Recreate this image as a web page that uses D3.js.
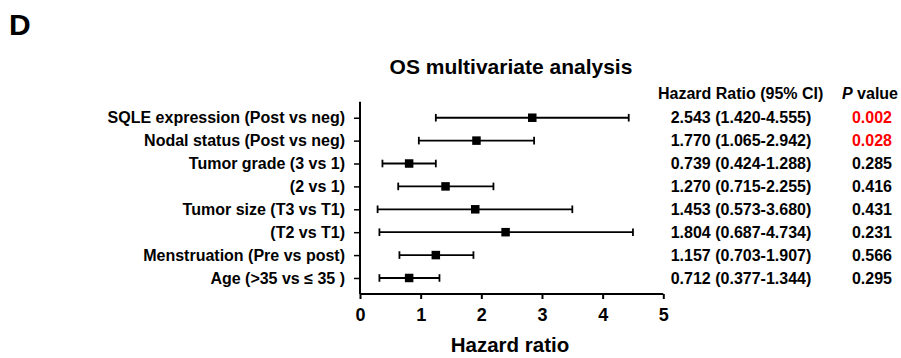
<!DOCTYPE html>
<html>
<head>
<meta charset="utf-8">
<script src="https://cdn.jsdelivr.net/npm/d3@7"></script>
<style>
  html, body { margin: 0; padding: 0; background: #fff; }
  svg { display: block; font-family: "Liberation Sans", Arial, sans-serif; }
</style>
</head>
<body>
<svg id="chart" width="901" height="358"></svg>
<script>
// ---- Data ----
const categories = [
  "SQLE expression (Post vs neg)",
  "Nodal status (Post vs neg)",
  "Tumor grade (3 vs 1)",
  "(2 vs 1)",
  "Tumor size (T3 vs T1)",
  "(T2 vs T1)",
  "Menstruation (Pre vs post)",
  "Age (>35 vs \u2264 35 )"
];
// plotted values
const pointValues = [2.84, 1.92, 0.81, 1.41, 1.90, 2.40, 1.25, 0.81];
const lowerValues = [1.25, 0.97, 0.37, 0.63, 0.29, 0.32, 0.65, 0.32];
const upperValues = [4.43, 2.87, 1.25, 2.20, 3.50, 4.50, 1.87, 1.31];
// table text
const hrLabels = [
  "2.543 (1.420-4.555)",
  "1.770 (1.065-2.942)",
  "0.739 (0.424-1.288)",
  "1.270 (0.715-2.255)",
  "1.453 (0.573-3.680)",
  "1.804 (0.687-4.734)",
  "1.157 (0.703-1.907)",
  "0.712 (0.377-1.344)"
];
const pValues = ["0.002", "0.028", "0.285", "0.416", "0.431", "0.231", "0.566", "0.295"];
const xTicks = [0, 1, 2, 3, 4, 5];
const panelLabel = "D";
const chartTitle = "OS multivariate analysis";
const xTitle = "Hazard ratio";
const hrHeader = "Hazard Ratio (95% CI)";

// ---- Drawing ----
const svg = d3.select("#chart");
const x = d3.scaleLinear().domain([0, 5]).range([360, 663.3]);
const y = d3.scalePoint().domain(categories).range([101.7, 294]).padding(0.7);
const FONT = "Liberation Sans, Arial, sans-serif";

svg.append("text").attr("x", 9).attr("y", 35)
  .attr("font-size", 30).attr("font-weight", "bold").text(panelLabel);

svg.append("text").attr("x", 511).attr("y", 74).attr("text-anchor", "middle")
  .attr("font-size", 21).attr("font-weight", "bold").text(chartTitle);

// y axis
const yAxis = svg.append("g").attr("transform", "translate(360,0)")
  .call(d3.axisLeft(y).tickSize(6).tickPadding(9));
yAxis.select(".domain").attr("d", `M0,101.7V294`).attr("stroke-width", 2);
yAxis.selectAll(".tick line").attr("stroke-width", 1.5);
yAxis.selectAll(".tick text").attr("font-size", 16).attr("font-weight", "bold")
  .attr("font-family", FONT).attr("fill", "#000");

// x axis
const xAxis = svg.append("g").attr("transform", "translate(0,294)")
  .call(d3.axisBottom(x).tickValues(xTicks).tickFormat(d3.format("d")).tickSize(5).tickPadding(9));
xAxis.select(".domain").attr("d", `M360,0H663.3`).attr("stroke-width", 2);
xAxis.selectAll(".tick line").attr("stroke-width", 2);
xAxis.selectAll(".tick text").attr("font-size", 18).attr("font-weight", "bold")
  .attr("font-family", FONT).attr("fill", "#000");

svg.append("text").attr("x", 510).attr("y", 352).attr("text-anchor", "middle")
  .attr("font-size", 20.5).attr("font-weight", "bold").text(xTitle);

// error bars
const rows = categories.map((c, i) => ({c, p: pointValues[i], lo: lowerValues[i], hi: upperValues[i], hr: hrLabels[i], pv: pValues[i]}));
const g = svg.append("g");
const capH = 3.8;
g.selectAll("line.whisk").data(rows).join("line").attr("class", "whisk")
  .attr("x1", d => x(d.lo)).attr("x2", d => x(d.hi))
  .attr("y1", d => y(d.c)).attr("y2", d => y(d.c))
  .attr("stroke", "#000").attr("stroke-width", 1.8);
g.selectAll("line.capl").data(rows).join("line").attr("class", "capl")
  .attr("x1", d => x(d.lo)).attr("x2", d => x(d.lo))
  .attr("y1", d => y(d.c) - capH).attr("y2", d => y(d.c) + capH)
  .attr("stroke", "#000").attr("stroke-width", 1.8);
g.selectAll("line.capr").data(rows).join("line").attr("class", "capr")
  .attr("x1", d => x(d.hi)).attr("x2", d => x(d.hi))
  .attr("y1", d => y(d.c) - capH).attr("y2", d => y(d.c) + capH)
  .attr("stroke", "#000").attr("stroke-width", 1.8);
const sq = 8.5;
g.selectAll("rect.pt").data(rows).join("rect").attr("class", "pt")
  .attr("x", d => x(d.p) - sq / 2).attr("y", d => y(d.c) - sq / 2)
  .attr("width", sq).attr("height", sq).attr("fill", "#000");

// table
svg.append("text").attr("x", 658).attr("y", 99).attr("font-size", 16)
  .attr("font-weight", "bold").text(hrHeader);
const pv = svg.append("text").attr("x", 898).attr("y", 99).attr("text-anchor", "end")
  .attr("font-size", 16).attr("font-weight", "bold");
pv.append("tspan").attr("font-style", "italic").text("P");
pv.append("tspan").text(" value");

svg.append("g").selectAll("text").data(rows).join("text")
  .attr("x", 741).attr("y", d => y(d.c)).attr("dy", "0.36em").attr("text-anchor", "middle")
  .attr("font-size", 16).attr("font-weight", "bold").text(d => d.hr);
svg.append("g").selectAll("text").data(rows).join("text")
  .attr("x", 892).attr("y", d => y(d.c)).attr("dy", "0.36em").attr("text-anchor", "end")
  .attr("font-size", 16).attr("font-weight", "bold")
  .attr("fill", d => +d.pv < 0.05 ? "#ff0000" : "#000").text(d => d.pv);
</script>
</body>
</html>
